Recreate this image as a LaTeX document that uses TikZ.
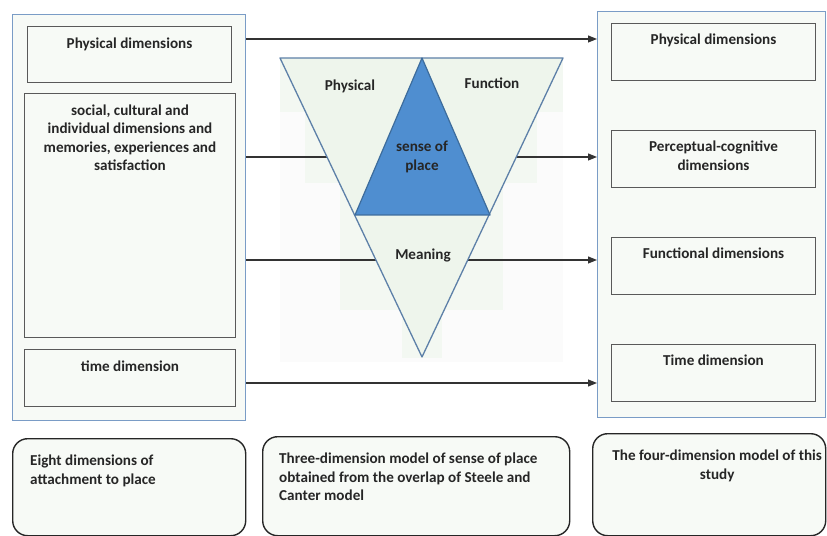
\documentclass[tikz,border=0pt]{standalone}
\usepackage{fontspec}
\setmainfont{Carlito}
\usepackage{tikz}
\usetikzlibrary{arrows.meta, positioning}
\definecolor{frame}{HTML}{7A9CC6}
\definecolor{paper}{HTML}{F7FAF6}
\definecolor{haze}{HTML}{F3F8F2}
\definecolor{trifill}{HTML}{EEF5EC}
\definecolor{triline}{HTML}{5D80A8}
\definecolor{core}{HTML}{4F8ED0}
\definecolor{coreline}{HTML}{3D6C9C}

\begin{document}
\begin{tikzpicture}[x=1bp,y=-1bp,
    every node/.style={font=\fontsize{15.2}{18.6}\selectfont\bfseries, text=black!85},
    outer/.style={draw=frame, fill=paper, line width=1.2bp, anchor=north west, inner sep=0},
    inbox/.style={draw=black!65, fill=paper, line width=1bp, anchor=north west, inner sep=0},
    note/.style={draw=black!85, fill=paper, rounded corners=15bp, line width=1.4bp, anchor=north west, inner sep=0},
    txt/.style={inner sep=0, align=center},
    link/.style={draw=black!80, line width=1.1bp, -{Triangle[length=9bp,width=7bp]}},
    tri/.style={fill=trifill, draw=triline, line width=1.3bp, line join=round}]
    \useasboundingbox (0,0) rectangle (827,536);

    % eight dimensions
    \node[outer, minimum width=233bp, minimum height=406bp] (lbox) at (12,14) {};
    \node[inbox, minimum width=204bp, minimum height=56bp] (lphys) at (27,26) {};
    \node[inbox, minimum width=211bp, minimum height=244bp] (lsoc) at (24,93) {};
    \node[inbox, minimum width=211bp, minimum height=57bp] (ltime) at (24,349) {};
    \node[txt, below=11.5bp of lphys.north] (lphyst) {Physical dimensions};
    \node[txt, below=11.5bp of lsoc.north] (lsoct) {social, cultural and\\individual dimensions and\\memories, experiences and\\satisfaction};
    \node[txt, below=11.5bp of ltime.north] (ltimet) {time dimension};

    % four dimensions
    \node[outer, minimum width=228bp, minimum height=406bp] (rbox) at (597,11) {};
    \foreach \y/\n in {23/rphys,130/rperc,237/rfunc,344/rtime}
        \node[inbox, minimum width=204bp, minimum height=57bp] (\n) at (611,\y) {};
    \node[txt, below=11bp of rphys.north] (rphyst) {Physical dimensions};
    \node[txt, below=11bp of rperc.north] (rperct) {Perceptual-cognitive\\dimensions};
    \node[txt, below=11bp of rfunc.north] (rfunct) {Functional dimensions};
    \node[txt, below=11bp of rtime.north] (rtimet) {Time dimension};

    % faint backdrop of the model
    \fill[black!1.5] (280,58) rectangle (563,362);
    \fill[haze] (280,58) rectangle (563,112);
    \fill[haze] (305,112) rectangle (537,183);
    \fill[haze] (340,183) rectangle (503,310);
    \fill[haze] (402,310) rectangle (442,358);

    \foreach \y in {39,157,260,383}
        \draw[link] (lbox.east |- 0,\y) -- (rbox.west |- 0,\y);

    % three-dimension model
    \filldraw[tri] (280,58) -- (563,58) -- (422,357) -- cycle;
    \filldraw[fill=core, draw=coreline, line width=1.2bp, line join=round] (422,58) -- (355,215) -- (490,215) -- cycle;
    \node (tphys) at (350,86) {Physical};
    \node (tfunc) at (492,83) {Function};
    \node[align=center] (tsense) at (422,157) {sense of\\place};
    \node (tmean) at (423,255) {Meaning};

    % captions
    \node[note, minimum width=233bp, minimum height=97bp] (n1) at (12,438) {};
    \node[note, minimum width=307bp, minimum height=99bp] (n2) at (262,436) {};
    \node[note, minimum width=233bp, minimum height=102bp] (n3) at (592,433) {};
    \node[txt, align=left, below right=17bp and 18bp of n1.north west] (n1t) {Eight dimensions of\\attachment to place};
    \node[txt, align=left, below right=17bp and 17bp of n2.north west] (n2t) {Three-dimension model of sense of place\\obtained from the overlap of Steele and\\Canter model};
    \node[txt, below=17bp of n3.north, xshift=8bp] (n3t) {The four-dimension model of this\\study};
\end{tikzpicture}
\end{document}
